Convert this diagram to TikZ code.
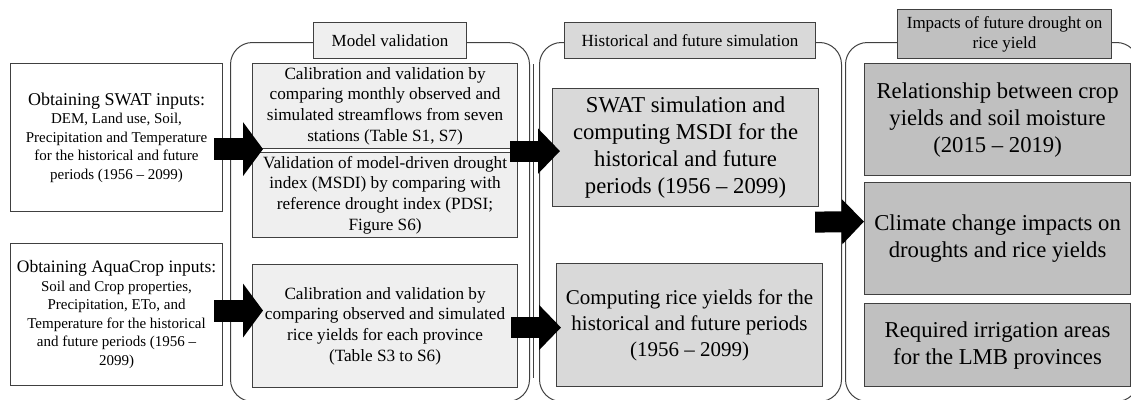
\documentclass[tikz,border=0pt]{standalone}
\usepackage{fontspec}
\setmainfont{Liberation Serif}
\usetikzlibrary{arrows.meta,calc}
\definecolor{edge}{HTML}{404040}
\definecolor{fillA}{HTML}{EFEFEF}
\definecolor{fillB}{HTML}{D9D9D9}
\definecolor{fillC}{HTML}{C0C0C0}
\tikzset{
  box/.style={draw=edge, line width=1.1pt, align=center, anchor=north west, inner sep=0pt},
  inbox/.style={box, fill=white, font=\fontsize{15}{18.5}\selectfont},
  valbox/.style={box, fill=fillA, font=\fontsize{17.2}{20.6}\selectfont},
  simbox/.style={box, fill=fillB},
  impbox/.style={box, fill=fillC, font=\fontsize{22.7}{27}\selectfont},
  panel/.style={draw=edge, line width=1pt, rounded corners=22pt, anchor=north west, inner sep=0pt},
  lab/.style={box, font=\fontsize{17}{20}\selectfont},
  bigA/.style={line width=22pt, -{Triangle[length=20pt,width=53pt]}},
  bigB/.style={line width=21pt, -{Triangle[length=22pt,width=44pt]}}
}
\begin{document}
\begin{tikzpicture}[x=1pt,y=-1pt]
\useasboundingbox (0,0) rectangle (1131,399);
% panels
\node[panel, minimum width=299pt, minimum height=359pt] (p1) at (230,42) {};
\draw[edge, line width=1pt] (533,64) -- (533,378);
\node[panel, minimum width=302pt, minimum height=359pt] (p2) at (539,42) {};
\node[panel, minimum width=293pt, minimum height=359pt] (p3) at (845,42) {};
% panel labels
\node[lab, fill=fillA, minimum width=153pt, minimum height=36pt] (l1) at (313,22) {Model validation};
\node[lab, fill=fillB, minimum width=251pt, minimum height=36pt] (l2) at (564,22) {Historical and future simulation};
\node[lab, fill=fillC, minimum width=214pt, minimum height=49pt] (l3) at (897,9) {Impacts of future drought on\\rice yield};
% input boxes
\node[inbox, minimum width=212pt, minimum height=148pt] (swat) at (10,63)
  {{\fontsize{18}{21}\selectfont Obtaining SWAT inputs:}\\DEM, Land use, Soil,\\Precipitation and Temperature\\for the historical and future\\periods (1956 -- 2099)};
\node[inbox, minimum width=212pt, minimum height=142pt] (aqua) at (10,243)
  {{\fontsize{17.5}{21}\selectfont Obtaining AquaCrop inputs:}\\Soil and Crop properties,\\Precipitation, ETo, and\\Temperature for the historical\\and future periods (1956 --\\2099)};
% model validation boxes
\node[valbox, minimum width=265pt, minimum height=85pt] (cal1) at (252,63)
  {Calibration and validation by\\comparing monthly observed and\\simulated streamflows from seven\\stations (Table S1, S7)};
\node[valbox, minimum width=265pt, minimum height=85pt] (val) at (252,152)
  {Validation of model-driven drought\\index (MSDI) by comparing with\\reference drought index (PDSI;\\Figure S6)};
\node[valbox, minimum width=265pt, minimum height=123pt] (rcal) at (252,264)
  {Calibration and validation by\\comparing observed and simulated\\rice yields for each province\\(Table S3 to S6)};
% simulation boxes
\node[simbox, font=\fontsize{22.7}{27.3}\selectfont, minimum width=266pt, minimum height=118pt] (sim) at (552,88)
  {SWAT simulation and\\computing MSDI for the\\historical and future\\periods (1956 -- 2099)};
\node[simbox, font=\fontsize{21}{26}\selectfont, minimum width=266pt, minimum height=123pt] (comp) at (556,263)
  {Computing rice yields for the\\historical and future periods\\(1956 -- 2099)};
% impact boxes
\node[impbox, minimum width=266pt, minimum height=112pt] (rel) at (864,63)
  {Relationship between crop\\yields and soil moisture\\(2015 -- 2019)};
\node[impbox, minimum width=266pt, minimum height=112pt] (clim) at (864,182)
  {Climate change impacts on\\droughts and rice yields};
\node[impbox, minimum width=266pt, minimum height=83pt] (irr) at (864,303)
  {Required irrigation areas\\for the LMB provinces};
% arrows
\draw[bigA] ($(swat.east |- cal1.south)+(-9,0)$) -- ($(cal1.south west)+(11,0)$);
\draw[bigA] ($(aqua.east)+(-9,-4)$) -- ($(rcal.west)+(11,-15.5)$);
\draw[bigB] ($(cal1.south east)+(-8,2)$) -- ($(sim.west |- cal1.south)+(8,2)$);
\draw[bigB] ($(rcal.east)+(-7,1.5)$) -- ($(comp.west)+(5,2.5)$);
\draw[bigB] ($(sim.south east)+(-4,15)$) -- ($(clim.west)+(0,-17)$);
\end{tikzpicture}
\end{document}
